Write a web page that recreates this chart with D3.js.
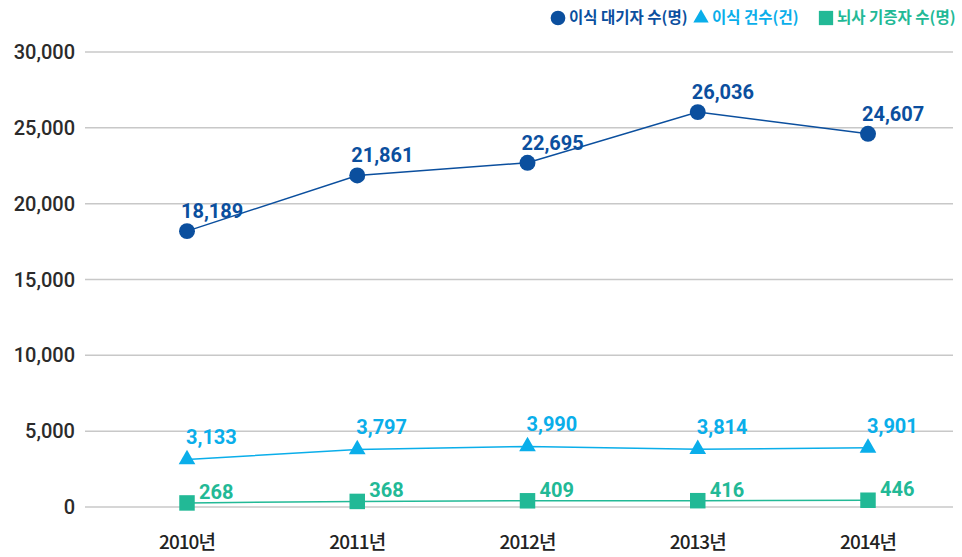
<!DOCTYPE html>
<html>
<head>
<meta charset="utf-8">
<script src="https://cdn.jsdelivr.net/npm/d3@7"></script>
<style>
  body { margin: 0; background: #fff; }
  svg { display: block; font-family: "Noto Sans CJK KR", "Noto Sans", sans-serif; }
</style>
</head>
<body>
<svg id="chart"></svg>
<script>
const years = ['2010년', '2011년', '2012년', '2013년', '2014년'];
const waiting = [18189, 21861, 22695, 26036, 24607];
const transplants = [3133, 3797, 3990, 3814, 3901];
const donors = [268, 368, 409, 416, 446];
const yTicks = [0, 5000, 10000, 15000, 20000, 25000, 30000];

const width = 962, height = 557;

const svg = d3.select('#chart')
    .attr('width', width)
    .attr('height', height);

// Scales
const x = d3.scalePoint()
    .domain(years)
    .range([187, 868]);

const y = d3.scaleLinear()
    .domain([0, 30000])
    .range([507, 52]);

const fmt = d3.format(',');

// Gridlines
svg.append('g')
  .selectAll('line')
    .data(yTicks)
  .join('line')
    .attr('x1', 85)
    .attr('x2', 953)
    .attr('y1', d => y(d))
    .attr('y2', d => y(d))
    .attr('stroke', '#c8c8c8')
    .attr('stroke-width', 1.5);

// Y axis labels
svg.append('g')
  .selectAll('text')
    .data(yTicks)
  .join('text')
    .attr('x', 75)
    .attr('y', d => y(d))
    .attr('dy', '0.35em')
    .attr('text-anchor', 'end')
    .attr('font-size', 20)
    .attr('font-weight', 500)
    .attr('font-family', 'Roboto, sans-serif')
    .attr('fill', '#2b2b2b')
    .text(d => fmt(d));

// X axis labels
svg.append('g')
  .selectAll('text')
    .data(years)
  .join('text')
    .attr('x', d => x(d))
    .attr('y', 549)
    .attr('text-anchor', 'middle')
    .attr('font-size', 19)
    .attr('font-weight', 500)
    .attr('fill', '#222')
    .attr('letter-spacing', -1)
    .text(d => d);

const series = [
  { name: '이식 대기자 수(명)', values: waiting, color: '#0b4f9e', shape: d3.symbolCircle, size: 200, lx: -6, ly: -13 },
  { name: '이식 건수(건)', values: transplants, color: '#0aaeea', shape: d3.symbolTriangle, size: 120, lx: -1, ly: -15 },
  { name: '뇌사 기증자 수(명)', values: donors, color: '#22b996', shape: d3.symbolSquare, size: 240, lx: 12, ly: -4 }
];

const line = d3.line()
    .x((d, i) => x(years[i]))
    .y(d => y(d));

series.forEach(s => {
  const g = svg.append('g');

  g.append('path')
      .datum(s.values)
      .attr('d', line)
      .attr('fill', 'none')
      .attr('stroke', s.color)
      .attr('stroke-width', 1.5);

  g.selectAll('.mark')
      .data(s.values)
    .join('path')
      .attr('class', 'mark')
      .attr('transform', (d, i) => `translate(${x(years[i])},${y(d)})`)
      .attr('d', d3.symbol().type(s.shape).size(s.size))
      .attr('fill', s.color);

  g.selectAll('.lbl')
      .data(s.values)
    .join('text')
      .attr('class', 'lbl')
      .attr('x', (d, i) => x(years[i]) + s.lx)
      .attr('y', d => y(d) + s.ly)
      .attr('font-size', 20)
      .attr('font-weight', 'bold')
      .attr('font-family', 'Roboto, sans-serif')
      .attr('fill', s.color)
      .text(d => fmt(d));
});

// Legend
const legend = svg.append('g')
    .attr('transform', 'translate(0,18)');

const legendX = [558, 701, 826];
series.forEach((s, i) => {
  legend.append('path')
      .attr('transform', `translate(${legendX[i]},0)`)
      .attr('d', d3.symbol().type(s.shape).size(s.size * 0.85))
      .attr('fill', s.color);

  legend.append('text')
      .attr('x', legendX[i] + 11)
      .attr('y', 0)
      .attr('dy', '0.35em')
      .attr('font-size', 15.5)
      .attr('font-weight', 'bold')
      .attr('fill', s.color)
      .text(s.name);
});
</script>
</body>
</html>
